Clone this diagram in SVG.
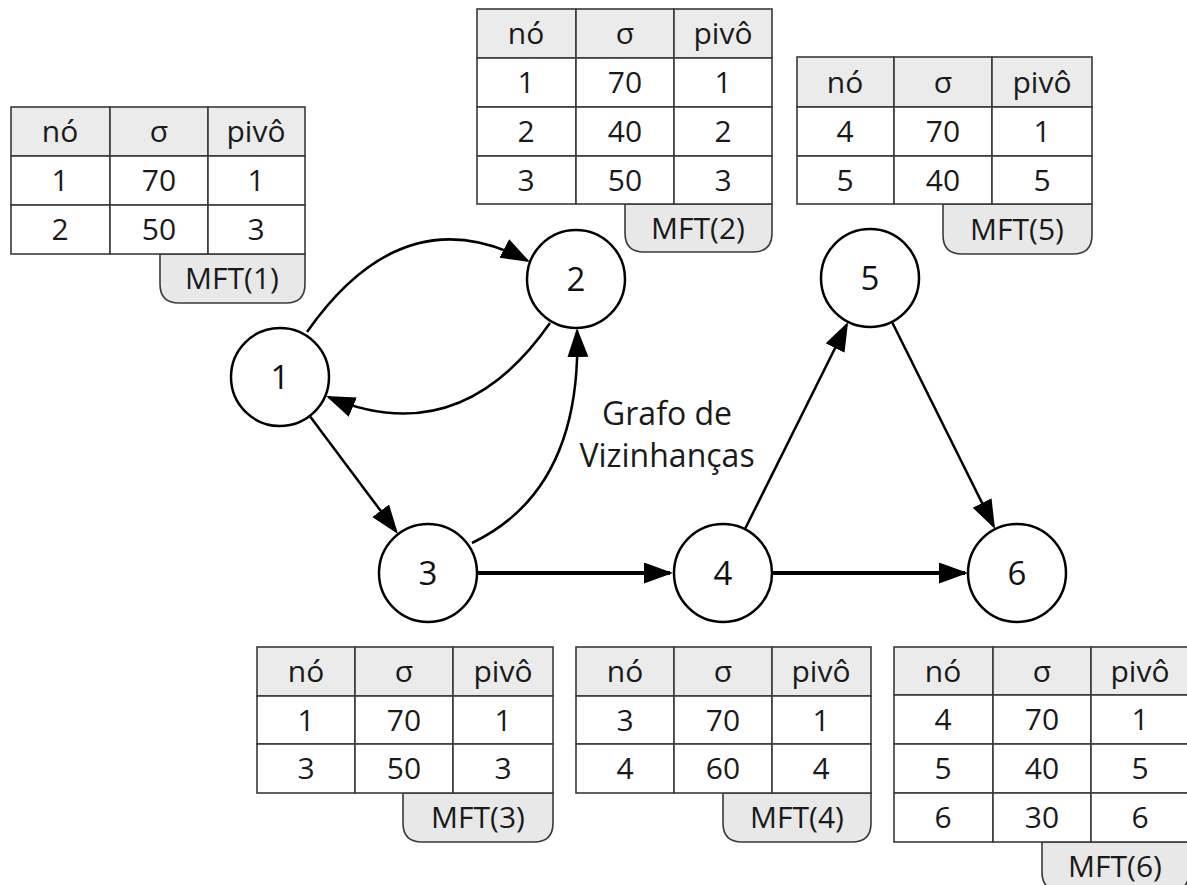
<svg xmlns="http://www.w3.org/2000/svg" width="1187" height="885" viewBox="0 0 1187 885">
<style>
.cell{fill:#fff;stroke:#3a3a3a;stroke-width:1.6}
.hdr{fill:#ebebeb;stroke:#3a3a3a;stroke-width:1.6}
.tab{fill:#e8e8e8;stroke:#3a3a3a;stroke-width:1.6}
.t{font-family:"Open Sans","Liberation Sans",sans-serif;font-size:30px;fill:#1a1a1a;text-anchor:middle}
.node circle{fill:#fff;stroke:#000;stroke-width:2.5}
.nt{font-family:"Open Sans","Liberation Sans",sans-serif;font-size:33px;fill:#111;text-anchor:middle}
.e{fill:none;stroke:#000;stroke-width:2.5;marker-end:url(#ah)}
.ek{fill:none;stroke:#000;stroke-width:4;marker-end:url(#ah)}
.lbl{font-family:"Open Sans","Liberation Sans",sans-serif;font-size:32px;fill:#1a1a1a;text-anchor:middle}
</style>
<defs>
<marker id="ah" markerUnits="userSpaceOnUse" markerWidth="31" markerHeight="22" refX="26" refY="10.5" orient="auto">
<path d="M0,0 L29,10.5 L0,21 z" fill="#000"/>
</marker>
</defs>

<g id="connectors">
<path class="e" d="M307,332 Q403,195 527.3,260.6"/>
<path class="e" d="M550,323 Q460,452 328.8,397.1"/>
<path class="e" d="M309,415 L396.2,531.6"/>
<path class="e" d="M472,543 Q582,490 577.1,331"/>
<path class="ek" d="M477,573 L670,573"/>
<path class="e" d="M745,529 L846.7,324.7"/>
<path class="e" d="M892,322 L993.7,526.3"/>
<path class="ek" d="M772,573 L965,573"/>
</g>

<g id="node1" class="node"><circle cx="280" cy="377" r="49"/><text class="nt" x="280" y="389">1</text></g>
<g id="node2" class="node"><circle cx="576" cy="279" r="49"/><text class="nt" x="576" y="291">2</text></g>
<g id="node3" class="node"><circle cx="428" cy="573" r="49"/><text class="nt" x="428" y="585">3</text></g>
<g id="node4" class="node"><circle cx="723" cy="573" r="49"/><text class="nt" x="723" y="585">4</text></g>
<g id="node5" class="node"><circle cx="870" cy="278" r="49"/><text class="nt" x="870" y="290">5</text></g>
<g id="node6" class="node"><circle cx="1017" cy="573" r="49"/><text class="nt" x="1017" y="585">6</text></g>

<g id="label">
<text class="lbl" x="667" y="425">Grafo de</text>
<text class="lbl" x="667" y="467">Vizinhanças</text>
</g>

<g id="mft1">
<path class="tab" d="M160,254 L305,254 L305,284 Q305,303 286,303 L179,303 Q160,303 160,284 Z"/>
<rect class="hdr" x="11" y="107" width="99" height="49"/><rect class="hdr" x="110" y="107" width="98" height="49"/><rect class="hdr" x="208" y="107" width="97" height="49"/>
<rect class="cell" x="11" y="156" width="99" height="49"/><rect class="cell" x="110" y="156" width="98" height="49"/><rect class="cell" x="208" y="156" width="97" height="49"/>
<rect class="cell" x="11" y="205" width="99" height="49"/><rect class="cell" x="110" y="205" width="98" height="49"/><rect class="cell" x="208" y="205" width="97" height="49"/>
<text class="t" x="60" y="142">nó</text><text class="t" x="159" y="142">σ</text><text class="t" x="256" y="142">pivô</text>
<text class="t" x="60" y="191">1</text><text class="t" x="159" y="191">70</text><text class="t" x="256" y="191">1</text>
<text class="t" x="60" y="240">2</text><text class="t" x="159" y="240">50</text><text class="t" x="256" y="240">3</text>
<text class="t" x="232" y="289">MFT(1)</text>
</g>

<g id="mft2">
<path class="tab" d="M625,204 L772,204 L772,233 Q772,252 753,252 L644,252 Q625,252 625,233 Z"/>
<rect class="hdr" x="477" y="9" width="99" height="49"/><rect class="hdr" x="576" y="9" width="98" height="49"/><rect class="hdr" x="674" y="9" width="98" height="49"/>
<rect class="cell" x="477" y="58" width="99" height="49"/><rect class="cell" x="576" y="58" width="98" height="49"/><rect class="cell" x="674" y="58" width="98" height="49"/>
<rect class="cell" x="477" y="107" width="99" height="49"/><rect class="cell" x="576" y="107" width="98" height="49"/><rect class="cell" x="674" y="107" width="98" height="49"/>
<rect class="cell" x="477" y="156" width="99" height="48"/><rect class="cell" x="576" y="156" width="98" height="48"/><rect class="cell" x="674" y="156" width="98" height="48"/>
<text class="t" x="526" y="44">nó</text><text class="t" x="625" y="44">σ</text><text class="t" x="723" y="44">pivô</text>
<text class="t" x="526" y="93">1</text><text class="t" x="625" y="93">70</text><text class="t" x="723" y="93">1</text>
<text class="t" x="526" y="142">2</text><text class="t" x="625" y="142">40</text><text class="t" x="723" y="142">2</text>
<text class="t" x="526" y="191">3</text><text class="t" x="625" y="191">50</text><text class="t" x="723" y="191">3</text>
<text class="t" x="698" y="239">MFT(2)</text>
</g>

<g id="mft5">
<path class="tab" d="M943,204 L1092,204 L1092,235 Q1092,254 1073,254 L962,254 Q943,254 943,235 Z"/>
<rect class="hdr" x="797" y="57" width="97" height="50"/><rect class="hdr" x="894" y="57" width="98" height="50"/><rect class="hdr" x="992" y="57" width="100" height="50"/>
<rect class="cell" x="797" y="107" width="97" height="49"/><rect class="cell" x="894" y="107" width="98" height="49"/><rect class="cell" x="992" y="107" width="100" height="49"/>
<rect class="cell" x="797" y="156" width="97" height="48"/><rect class="cell" x="894" y="156" width="98" height="48"/><rect class="cell" x="992" y="156" width="100" height="48"/>
<text class="t" x="845" y="93">nó</text><text class="t" x="943" y="93">σ</text><text class="t" x="1042" y="93">pivô</text>
<text class="t" x="845" y="142">4</text><text class="t" x="943" y="142">70</text><text class="t" x="1042" y="142">1</text>
<text class="t" x="845" y="191">5</text><text class="t" x="943" y="191">40</text><text class="t" x="1042" y="191">5</text>
<text class="t" x="1017" y="240">MFT(5)</text>
</g>

<g id="mft3">
<path class="tab" d="M403,793 L553,793 L553,823 Q553,842 534,842 L422,842 Q403,842 403,823 Z"/>
<rect class="hdr" x="257" y="647" width="98" height="49"/><rect class="hdr" x="355" y="647" width="98" height="49"/><rect class="hdr" x="453" y="647" width="100" height="49"/>
<rect class="cell" x="257" y="696" width="98" height="48"/><rect class="cell" x="355" y="696" width="98" height="48"/><rect class="cell" x="453" y="696" width="100" height="48"/>
<rect class="cell" x="257" y="744" width="98" height="49"/><rect class="cell" x="355" y="744" width="98" height="49"/><rect class="cell" x="453" y="744" width="100" height="49"/>
<text class="t" x="306" y="682">nó</text><text class="t" x="404" y="682">σ</text><text class="t" x="503" y="682">pivô</text>
<text class="t" x="306" y="731">1</text><text class="t" x="404" y="731">70</text><text class="t" x="503" y="731">1</text>
<text class="t" x="306" y="779">3</text><text class="t" x="404" y="779">50</text><text class="t" x="503" y="779">3</text>
<text class="t" x="478" y="828">MFT(3)</text>
</g>

<g id="mft4">
<path class="tab" d="M723,793 L871,793 L871,823 Q871,842 852,842 L742,842 Q723,842 723,823 Z"/>
<rect class="hdr" x="576" y="647" width="98" height="49"/><rect class="hdr" x="674" y="647" width="98" height="49"/><rect class="hdr" x="772" y="647" width="99" height="49"/>
<rect class="cell" x="576" y="696" width="98" height="48"/><rect class="cell" x="674" y="696" width="98" height="48"/><rect class="cell" x="772" y="696" width="99" height="48"/>
<rect class="cell" x="576" y="744" width="98" height="49"/><rect class="cell" x="674" y="744" width="98" height="49"/><rect class="cell" x="772" y="744" width="99" height="49"/>
<text class="t" x="625" y="682">nó</text><text class="t" x="723" y="682">σ</text><text class="t" x="821" y="682">pivô</text>
<text class="t" x="625" y="731">3</text><text class="t" x="723" y="731">70</text><text class="t" x="821" y="731">1</text>
<text class="t" x="625" y="779">4</text><text class="t" x="723" y="779">60</text><text class="t" x="821" y="779">4</text>
<text class="t" x="797" y="828">MFT(4)</text>
</g>

<g id="mft6">
<path class="tab" d="M1042,842 L1189,842 L1189,872 Q1189,891 1170,891 L1061,891 Q1042,891 1042,872 Z"/>
<rect class="hdr" x="894" y="647" width="99" height="48"/><rect class="hdr" x="993" y="647" width="98" height="48"/><rect class="hdr" x="1091" y="647" width="98" height="48"/>
<rect class="cell" x="894" y="695" width="99" height="49"/><rect class="cell" x="993" y="695" width="98" height="49"/><rect class="cell" x="1091" y="695" width="98" height="49"/>
<rect class="cell" x="894" y="744" width="99" height="49"/><rect class="cell" x="993" y="744" width="98" height="49"/><rect class="cell" x="1091" y="744" width="98" height="49"/>
<rect class="cell" x="894" y="793" width="99" height="49"/><rect class="cell" x="993" y="793" width="98" height="49"/><rect class="cell" x="1091" y="793" width="98" height="49"/>
<text class="t" x="943" y="682">nó</text><text class="t" x="1042" y="682">σ</text><text class="t" x="1140" y="682">pivô</text>
<text class="t" x="943" y="730">4</text><text class="t" x="1042" y="730">70</text><text class="t" x="1140" y="730">1</text>
<text class="t" x="943" y="779">5</text><text class="t" x="1042" y="779">40</text><text class="t" x="1140" y="779">5</text>
<text class="t" x="943" y="828">6</text><text class="t" x="1042" y="828">30</text><text class="t" x="1140" y="828">6</text>
<text class="t" x="1115" y="877">MFT(6)</text>
</g>
</svg>
